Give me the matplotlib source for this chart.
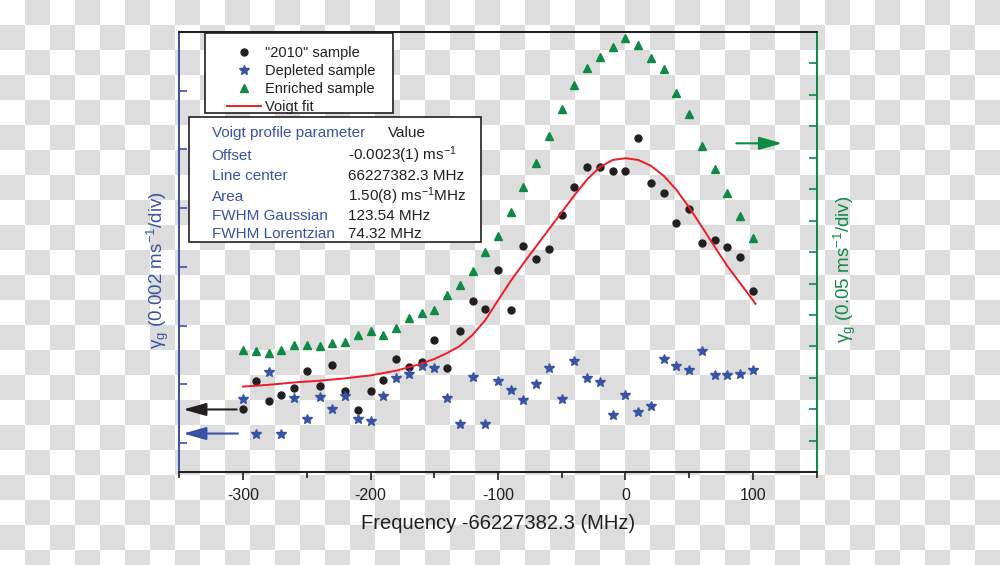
import numpy as np
import matplotlib.pyplot as plt
from matplotlib.patches import Rectangle

plt.rcParams['font.family'] = ['Liberation Sans', 'DejaVu Sans']
plt.rcParams['mathtext.fontset'] = 'custom'
plt.rcParams['mathtext.rm'] = 'Liberation Sans'
plt.rcParams['mathtext.it'] = 'Liberation Sans:italic'
plt.rcParams['mathtext.default'] = 'regular'
plt.rcParams['axes.unicode_minus'] = False

# frequency offset (MHz)
freq = [-300, -290, -280, -270, -260, -250, -240, -230, -220, -210, -200,
        -190, -180, -170, -160, -150, -140, -130, -120, -110, -100,
        -90, -80, -70, -60, -50, -40, -30, -20, -10, 0,
        10, 20, 30, 40, 50, 60, 70, 80, 90, 100]

# left axis, in divisions of 0.002 ms^-1
s2010 = [-0.42, 0.05, -0.28, -0.19, -0.07, 0.23, -0.03, 0.32, -0.11, -0.44,
         -0.12, 0.07, 0.43, 0.30, 0.38, 0.75, 0.28, 0.90, 1.41, 1.28,
         1.95, 1.26, 2.36, 2.13, 2.31, 2.88, 3.36, 3.70, 3.70, 3.63,
         3.64, 4.20, 3.42, 3.25, 2.74, 2.99, 2.40, 2.45, 2.34, 2.16, 1.59]
depleted = [-0.26, -0.85, 0.21, -0.85, -0.24, -0.59, -0.22, -0.42, -0.20, -0.60,
            -0.63, -0.20, 0.10, 0.18, 0.31, 0.28, -0.23, -0.68, 0.12, -0.68,
            0.05, -0.10, -0.27, 0.00, 0.28, -0.25, 0.39, 0.11, 0.03, -0.52,
            -0.18, -0.47, -0.37, 0.43, 0.31, 0.24, 0.57, 0.15, 0.15, 0.18, 0.24]

# right axis, in divisions of 0.05 ms^-1
enriched = [3.90, 3.85, 3.80, 3.90, 4.05, 4.05, 4.01, 4.11, 4.14, 4.35,
            4.50, 4.35, 4.59, 4.90, 5.08, 5.15, 5.65, 5.95, 6.40, 7.01,
            7.51, 8.28, 9.08, 9.82, 10.69, 11.54, 12.31, 12.84, 13.21, 13.53,
            13.80, 13.60, 13.17, 12.81, 12.05, 11.38, 10.39, 9.64, 8.87, 8.15, 7.44]

# Voigt fit (left axis)
fit_x = [-300, -280, -260, -240, -220, -200, -190, -180, -170, -160, -150,
         -140, -130, -120, -110, -100, -90, -80, -70, -60, -50, -40, -30,
         -20, -10, 0, 10, 20, 30, 40, 50, 60, 70, 80, 90, 100, 102]
fit_y = [-0.04, -0.01, 0.03, 0.06, 0.10, 0.15, 0.19, 0.23, 0.29, 0.35, 0.43,
         0.53, 0.65, 0.84, 1.09, 1.43, 1.76, 2.06, 2.35, 2.64, 2.93, 3.22, 3.49,
         3.70, 3.82, 3.85, 3.82, 3.72, 3.55, 3.31, 3.01, 2.68, 2.34, 2.01, 1.72, 1.43, 1.37]

table_names = ['Offset', 'Line center', 'Area', 'FWHM Gaussian', 'FWHM Lorentzian']
table_values = ['-0.0023(1) ms$^{-1}$', '66227382.3 MHz', '1.50(8) ms$^{-1}$MHz',
                '123.54 MHz', '74.32 MHz']

BLUE = '#3953a4'
GREEN = '#0f8a45'
RED = '#ee1c25'
DARK = '#231f20'

fig = plt.figure(figsize=(10, 5.65), dpi=100)

# transparent-png style checkerboard behind everything
bg = fig.add_axes([0, 0, 1, 1])
jj, ii = np.mgrid[0:23, 0:40]
checker = np.where((ii + jj) % 2 == 1, 221, 255)
bg.imshow(checker, cmap='gray', vmin=0, vmax=255, extent=(0, 1000, 575, 0),
          interpolation='nearest', aspect='auto')
bg.set_xlim(0, 1000)
bg.set_ylim(565, 0)
bg.axis('off')

ax = fig.add_axes([0.1793, 0.1641, 0.6374, 0.7793])
ax.set_facecolor('none')
h1, = ax.plot(freq, s2010, 'o', color=DARK, ms=5, mec=DARK, label='"2010" sample')
h2, = ax.plot(freq, depleted, '*', color=BLUE, ms=7, mec=BLUE, label='Depleted sample')
h4, = ax.plot(fit_x, fit_y, '-', color=RED, lw=1.4, label='Voigt fit')

ax2 = ax.twinx()
h3, = ax2.plot(freq, enriched, '^', color=GREEN, ms=6, mec=GREEN, label='Enriched sample')

ax.set_xlim(-350, 150)
ax.set_ylim(-1.5, 6)
ax2.set_ylim(0, 14)

ax.set_xticks([-300, -200, -100, 0, 100])
ax.set_xticks([-350, -250, -150, -50, 50, 150], minor=True)
ax.tick_params(axis='x', which='major', direction='out', length=6, width=1.2,
               color=DARK, labelsize=11.5, pad=5.5, labelcolor=DARK)
ax.tick_params(axis='x', which='minor', direction='out', length=4, width=1.2, color=DARK)
ax.set_yticks(range(-1, 7))
ax.tick_params(axis='y', direction='in', length=6, width=1.2, color=BLUE, labelleft=False)
ax2.set_yticks(range(1, 14))
ax2.tick_params(axis='y', direction='in', length=6, width=1.2, color=GREEN, labelright=False)

for a in (ax, ax2):
    for s in a.spines.values():
        s.set_linewidth(1.3)
    a.spines['top'].set_color(DARK)
    a.spines['bottom'].set_color(DARK)
    a.spines['left'].set_color(BLUE)
    a.spines['right'].set_color(GREEN)

ax.set_xlabel('Frequency -66227382.3 (MHz)', fontsize=14.5, color=DARK)
ax.xaxis.set_label_coords(0.5, -0.094)
ax.set_ylabel(r'$\gamma_g$ (0.002 ms$^{-1}$/div)', fontsize=13.5, color=BLUE)
ax.yaxis.set_label_coords(-0.013, 0.46)
ax2.set_ylabel(r'$\gamma_g$ (0.05 ms$^{-1}$/div)', fontsize=13.5, color=GREEN)
ax2.yaxis.set_label_coords(1.024, 0.46)

# axis arrows
arrow = '-|>,head_length=1.0,head_width=0.28'
ax.annotate('', xy=(-347, -0.43), xytext=(-305, -0.43),
            arrowprops=dict(arrowstyle=arrow, color=DARK, lw=1.5,
                            shrinkA=0, shrinkB=0, mutation_scale=14))
ax.annotate('', xy=(-347, -0.84), xytext=(-304, -0.84),
            arrowprops=dict(arrowstyle=arrow, color=BLUE, lw=1.5,
                            shrinkA=0, shrinkB=0, mutation_scale=14))
ax2.annotate('', xy=(123, 10.46), xytext=(87, 10.46),
             arrowprops=dict(arrowstyle=arrow, color=GREEN, lw=1.5,
                             shrinkA=0, shrinkB=0, mutation_scale=14))

# legend box and parameter table box
bg.add_patch(Rectangle((205, 33), 188, 80, facecolor='white', edgecolor=DARK, lw=1.2, zorder=3))
bg.add_patch(Rectangle((188.5, 117), 292, 125, facecolor='white', edgecolor=DARK, lw=1.2, zorder=3))

ax2.legend([h1, h2, h3, h4], [h.get_label() for h in (h1, h2, h3, h4)],
           loc='upper left', bbox_to_anchor=(227, 46), bbox_transform=bg.transData,
           frameon=False, fontsize=10.5, borderpad=0, borderaxespad=0,
           handlelength=2.3, handletextpad=0.3, labelspacing=0.27, labelcolor=DARK)

table_rows = [160, 179.5, 201, 219.5, 238.5]
bg.text(211.7, 137, 'Voigt profile parameter', fontsize=11, color=BLUE, va='baseline', zorder=4)
bg.text(388, 137, 'Value', fontsize=11, color=DARK, va='baseline', zorder=4)
for name, val, yb in zip(table_names, table_values, table_rows):
    bg.text(211.7, yb, name, fontsize=11, color=BLUE, va='baseline', zorder=4)
    bg.text(347.5, yb, val, fontsize=11, color=DARK, va='baseline', zorder=4)

fig.savefig('out.png', dpi=100)
